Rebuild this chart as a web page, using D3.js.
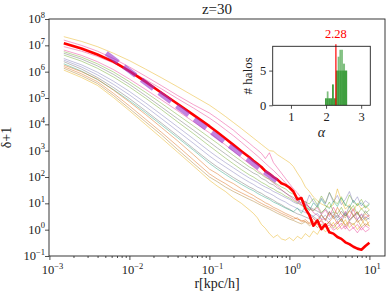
<!DOCTYPE html>
<html>
<head>
<meta charset="utf-8">
<script src="https://cdn.jsdelivr.net/npm/d3@7"></script>
<style>
  body { margin: 0; background: #fff; }
  svg text { font-family: "Liberation Serif", "DejaVu Serif", serif !important; fill: #222; }
</style>
</head>
<body>
<div id="chart"></div>
<script>
// log10(r) grid shared by every profile
const logR = [-2.82, -2.6, -2.4, -2.2, -2.0, -1.8, -1.6, -1.4, -1.2, -1.0,
  -0.9, -0.8, -0.7, -0.6,
  -0.5, -0.45, -0.4, -0.35, -0.3, -0.25, -0.2, -0.15, -0.1, -0.05, 0,
  0.05, 0.1, 0.15, 0.2, 0.25, 0.3, 0.35, 0.4, 0.45, 0.5,
  0.55, 0.6, 0.65, 0.7, 0.75, 0.8, 0.85, 0.9, 0.95, 1.0];

// log10(delta+1) of the individual halos
const haloColors = ['#e6ab02', '#e7298a', '#e7298a', '#e7298a', '#66a61e', '#666666', '#66a61e',
  '#7570b3', '#7570b3', '#666666', '#1b9e77', '#d95f02', '#d95f02', '#a6761d', '#e6ab02'];
const haloProfiles = [
  [7.33, 7.15, 6.95, 6.70, 6.42, 6.10, 5.77, 5.43, 5.08, 4.73, 4.52, 4.30, 4.07, 3.84,
   3.60, 3.48, 3.36, 3.24, 3.12, 3.00, 2.98, 2.85, 2.75, 2.65, 2.55, 2.40, 2.15, 1.92, 1.62, 1.45,
   1.24, 1.10, 0.98, 0.90, 0.85, 0.95, 1.55, 1.10, 0.78, 0.95, 0.70, 1.00, 0.78, 0.90, 0.75],
  [7.20, 7.00, 6.78, 6.50, 6.18, 5.83, 5.47, 5.10, 4.75, 4.43, 4.22, 4.00, 3.78, 3.52,
   3.28, 3.15, 3.03, 2.90, 2.70, 2.92, 2.55, 2.35, 2.15, 1.95, 1.75, 1.55, 1.40, 1.20, 1.00, 0.85,
   0.65, 0.55, 0.38, 0.42, 0.22, 0.14, 0.32, 0.02, 0.15, -0.05, 0.08, -0.12, 0.10, -0.08, 0.02],
  [6.95, 6.78, 6.58, 6.33, 6.03, 5.70, 5.35, 4.98, 4.62, 4.24, 4.03, 3.80, 3.57, 3.32,
   3.06, 2.93, 2.80, 2.66, 2.52, 2.38, 2.25, 2.10, 1.95, 1.78, 1.60, 1.40, 1.18, 0.95, 0.80, 0.60,
   0.45, 0.28, 0.32, 0.10, 0.18, -0.02, 0.08, 0.25, 0.02, 0.28, 0.05, 0.20, -0.02, 0.15, 0.05],
  [6.82, 6.62, 6.38, 6.08, 5.72, 5.33, 4.93, 4.52, 4.10, 3.68, 3.45, 3.22, 2.98, 2.74,
   2.50, 2.38, 2.25, 2.14, 2.02, 1.90, 1.78, 1.66, 1.52, 1.40, 1.28, 1.15, 1.05, 0.95, 1.08, 0.82,
   0.72, 0.85, 0.58, 0.75, 0.50, 0.85, 0.58, 0.42, 0.70, 0.45, 0.80, 0.38, 0.60, 0.45, 0.55],
  [6.76, 6.55, 6.30, 5.99, 5.62, 5.22, 4.80, 4.37, 3.94, 3.50, 3.28, 3.05, 2.82, 2.60,
   2.38, 2.30, 2.18, 2.10, 1.98, 1.92, 1.80, 1.72, 1.62, 1.55, 1.42, 1.35, 1.22, 1.15, 1.05, 0.98,
   1.18, 0.95, 1.28, 1.02, 1.42, 1.12, 0.98, 1.25, 0.90, 1.32, 1.05, 0.92, 1.15, 0.85, 1.00],
  [6.70, 6.48, 6.22, 5.90, 5.52, 5.10, 4.66, 4.22, 3.78, 3.33, 3.10, 2.88, 2.66, 2.45,
   2.25, 2.15, 2.08, 1.95, 1.88, 1.76, 1.70, 1.58, 1.50, 1.40, 1.30, 1.22, 1.10, 1.02, 0.95, 0.85,
   0.78, 0.70, 0.62, 0.80, 0.58, 0.66, 0.45, 0.70, 0.52, 0.90, 0.50, 0.62, 0.42, 0.72, 0.52],
  [6.63, 6.40, 6.13, 5.80, 5.42, 5.00, 4.56, 4.10, 3.65, 3.18, 2.95, 2.72, 2.50, 2.28,
   2.08, 2.00, 1.90, 1.80, 1.72, 1.62, 1.55, 1.45, 1.38, 1.28, 1.20, 1.10, 1.02, 0.92, 0.85, 0.78,
   0.72, 0.92, 0.65, 0.80, 1.05, 0.68, 0.60, 0.85, 0.52, 0.72, 0.92, 0.58, 0.80, 0.62, 0.75],
  [6.50, 6.26, 5.98, 5.64, 5.25, 4.82, 4.37, 3.91, 3.45, 2.98, 2.76, 2.55, 2.35, 2.15,
   1.96, 1.88, 1.80, 1.70, 1.62, 1.55, 1.45, 1.38, 1.30, 1.22, 1.15, 1.05, 0.98, 1.22, 0.92, 1.32,
   1.05, 0.90, 1.20, 0.98, 1.40, 1.05, 1.30, 0.95, 1.15, 1.45, 1.02, 1.25, 0.90, 1.10, 0.98],
  [6.44, 6.18, 5.88, 5.52, 5.12, 4.68, 4.22, 3.75, 3.28, 2.80, 2.58, 2.38, 2.18, 1.98,
   1.80, 1.72, 1.62, 1.55, 1.45, 1.38, 1.30, 1.20, 1.12, 1.05, 0.95, 0.88, 0.80, 0.72, 0.65, 0.58,
   0.52, 0.62, 0.42, 0.55, 0.38, 0.58, 0.35, 0.48, 0.66, 0.32, 0.50, 0.38, 0.58, 0.35, 0.45],
  [6.38, 6.10, 5.78, 5.40, 4.98, 4.52, 4.05, 3.57, 3.08, 2.60, 2.38, 2.18, 1.98, 1.80,
   1.62, 1.55, 1.45, 1.38, 1.28, 1.20, 1.12, 1.02, 0.95, 0.85, 0.78, 0.68, 0.60, 0.55, 0.48, 0.42,
   0.50, 0.38, 0.58, 0.34, 0.70, 0.42, 0.55, 0.30, 0.62, 0.38, 0.50, 0.68, 0.35, 0.48, 0.40],
  [6.30, 6.02, 5.70, 5.32, 4.90, 4.45, 3.98, 3.50, 3.02, 2.52, 2.30, 2.10, 1.90, 1.72,
   1.55, 1.48, 1.38, 1.30, 1.22, 1.15, 1.05, 0.98, 0.90, 0.82, 0.75, 0.68, 0.82, 0.62, 0.92, 0.72,
   1.02, 0.85, 1.15, 0.92, 0.80, 1.08, 0.88, 1.20, 0.96, 0.84, 1.12, 0.92, 1.02, 0.82, 0.95],
  [6.25, 6.00, 5.72, 5.30, 4.85, 4.38, 3.88, 3.38, 2.85, 2.30, 2.12, 1.90, 1.75, 1.55,
   1.38, 1.30, 1.20, 1.12, 1.02, 0.95, 0.85, 0.78, 0.70, 0.62, 0.55, 0.48, 0.40, 0.35, 0.30, 0.22,
   0.32, 0.18, 0.38, 0.15, 0.30, 0.50, 0.22, 0.42, 0.18, 0.35, 0.55, 0.28, 0.40, 0.15, 0.30],
  [6.19, 5.92, 5.62, 5.18, 4.70, 4.20, 3.70, 3.18, 2.65, 2.12, 1.92, 1.75, 1.55, 1.40,
   1.25, 1.18, 1.08, 1.00, 0.92, 0.85, 0.78, 0.70, 0.62, 0.55, 0.48, 0.40, 0.45, 0.30, 0.38, 0.25,
   0.42, 0.28, 0.55, 0.38, 0.66, 0.48, 0.85, 0.58, 0.45, 0.72, 0.55, 0.68, 0.42, 0.60, 0.48],
  [6.13, 5.85, 5.55, 5.10, 4.60, 4.10, 3.60, 3.05, 2.52, 2.00, 1.82, 1.62, 1.45, 1.30,
   1.15, 1.08, 1.00, 0.92, 0.85, 0.78, 0.70, 0.62, 0.55, 0.48, 0.40, 0.35, 0.28, 0.22, 0.30, 0.15,
   0.25, 0.08, 0.20, 0.12, 0.32, 0.05, 0.25, 0.40, 0.12, 0.30, 0.18, 0.38, 0.10, 0.22, 0.15],
  [6.06, 5.78, 5.48, 5.02, 4.52, 4.00, 3.48, 2.95, 2.42, 1.88, 1.65, 1.45, 1.20, 1.00,
   0.75, 0.62, 0.45, 0.20, 0.05, -0.15, -0.30, -0.20, -0.35, -0.40, -0.30, -0.42, -0.25, -0.35, -0.15, -0.28,
   -0.05, -0.18, 0.10, -0.08, 0.05, 0.28, 0.00, 0.15, 0.38, 0.08, 0.25, 0.00, 0.20, 0.45, 0.12]
];

// stacked (mean) profile, thick red
const meanProfile = [7.08, 6.88, 6.65, 6.38, 6.02, 5.62, 5.20, 4.78, 4.36, 3.93, 3.70, 3.46, 3.22, 2.98,
  2.75, 2.62, 2.50, 2.38, 2.22, 2.12, 2.00, 1.90, 1.76, 1.70, 1.60, 1.45, 1.15, 1.20, 0.80, 0.55,
  0.15, 0.35, 0.02, 0.20, -0.10, -0.15, -0.28, -0.35, -0.48, -0.55, -0.65, -0.72, -0.76, -0.62, -0.50];

// power-law fit, slope -2.28
const fitLogR = [-2.29, -0.11];
const fitLogY = [6.70, 1.73];

const xTickExp = [-3, -2, -1, 0, 1];
const yTickExp = [-1, 0, 1, 2, 3, 4, 5, 6, 7, 8];

// inset: histogram of slopes
const alphaEdges = [1.97, 2.02, 2.07, 2.12, 2.17, 2.22, 2.28, 2.33, 2.38, 2.43, 2.48, 2.54, 2.60];
const countsA = [1, 1, 1, 1, 3, 1, 5, 5, 5, 5, 5, 5];
const countsB = [1, 2, 1, 1, 3, 1, 5, 7, 8, 8, 6, 5];
const alphaMean = 2.28;
const insetXTicks = [1, 2, 3];
const insetYTicks = [0, 5];

const width = 390, height = 293;
const svg = d3.select('#chart').append('svg').attr('width', width).attr('height', height)
  .attr('font-family', '"Liberation Serif", serif');

const pLeft = 49, pRight = 385, pTop = 19, pBottom = 256;
const x = d3.scaleLog().domain([Math.pow(10, -3.005), Math.pow(10, 1.195)]).range([pLeft, pRight]);
const y = d3.scaleLog().domain([0.1, 1e8]).range([pBottom, pTop]);

svg.append('clipPath').attr('id', 'clip')
  .append('rect').attr('x', pLeft).attr('y', pTop).attr('width', pRight - pLeft).attr('height', pBottom - pTop);

const plot = svg.append('g').attr('clip-path', 'url(#clip)');
const line = d3.line().x((d) => x(Math.pow(10, d[0]))).y((d) => y(Math.pow(10, d[1])));

haloProfiles.forEach((p, i) => {
  plot.append('path')
    .attr('d', line(logR.map((r, j) => [r, p[j]])))
    .attr('fill', 'none')
    .attr('stroke', haloColors[i])
    .attr('stroke-opacity', 0.55)
    .attr('stroke-width', 0.8);
});

plot.append('path')
  .attr('d', line(logR.map((r, j) => [r, meanProfile[j]])))
  .attr('fill', 'none')
  .attr('stroke', 'red')
  .attr('stroke-width', 2.6)
  .attr('stroke-linejoin', 'round');

plot.append('path')
  .attr('d', line(fitLogR.map((r, j) => [r, fitLogY[j]])))
  .attr('fill', 'none')
  .attr('stroke', 'darkorchid')
  .attr('stroke-opacity', 0.6)
  .attr('stroke-width', 5)
  .attr('stroke-dasharray', '15,7');

// axes
svg.append('g').attr('transform', `translate(0,${pBottom})`)
  .call(d3.axisBottom(x).tickValues(xTickExp.map((e) => Math.pow(10, e))).tickSize(4).tickFormat(''));
const minor = [];
xTickExp.forEach((e) => { for (let k = 2; k < 10; k++) { const v = k * Math.pow(10, e); if (v < x.domain()[1]) minor.push(v); } });
svg.append('g').attr('transform', `translate(0,${pBottom})`)
  .call(d3.axisBottom(x).tickValues(minor).tickSize(2).tickFormat(''));
svg.append('g').attr('transform', `translate(${pLeft},0)`)
  .call(d3.axisLeft(y).tickValues(yTickExp.map((e) => Math.pow(10, e))).tickSize(4).tickFormat(''));
svg.selectAll('.domain').remove();
svg.selectAll('.tick line').attr('stroke', '#222').attr('stroke-width', 0.8);

const powLabel = (t, e) => {
  t.text('10');
  t.append('tspan').attr('dy', -5.5).attr('font-size', 8.5).text(e < 0 ? '\u2212' + -e : e);
};
xTickExp.forEach((e) => {
  svg.append('text').attr('x', x(Math.pow(10, e)) + 3).attr('y', 274)
    .attr('text-anchor', 'middle').attr('font-size', 12.5).call(powLabel, e);
});
yTickExp.forEach((e) => {
  svg.append('text').attr('x', 45).attr('y', y(Math.pow(10, e)) + 4)
    .attr('text-anchor', 'end').attr('font-size', 12.5).call(powLabel, e);
});

svg.append('rect').attr('x', pLeft).attr('y', pTop).attr('width', pRight - pLeft).attr('height', pBottom - pTop)
  .attr('fill', 'none').attr('stroke', '#222').attr('stroke-width', 0.9);

svg.append('text').attr('x', (pLeft + pRight) / 2).attr('y', 14).attr('text-anchor', 'middle')
  .attr('font-size', 15).text('z=30');
svg.append('text').attr('x', (pLeft + pRight) / 2).attr('y', 288).attr('text-anchor', 'middle')
  .attr('font-size', 14).text('r[kpc/h]');
svg.append('text').attr('transform', `translate(11,${(pTop + pBottom) / 2}) rotate(-90)`)
  .attr('text-anchor', 'middle').attr('font-size', 14).text('\u03b4+1');

// inset
const ix = d3.scaleLinear().domain([0.48, 3.26]).range([272.7, 370.3]);
const iy = d3.scaleLinear().domain([0, 8.5]).range([105.3, 46.3]);
const inset = svg.append('g');
inset.append('rect').attr('x', ix.range()[0]).attr('y', iy.range()[1])
  .attr('width', ix.range()[1] - ix.range()[0]).attr('height', iy.range()[0] - iy.range()[1]).attr('fill', '#fff');

[countsA, countsB].forEach((counts) => {
  inset.selectAll(null).data(counts).enter().append('rect')
    .attr('x', (d, i) => ix(alphaEdges[i]))
    .attr('width', (d, i) => ix(alphaEdges[i + 1]) - ix(alphaEdges[i]))
    .attr('y', (d) => iy(d))
    .attr('height', (d) => iy(0) - iy(d))
    .attr('fill', 'green')
    .attr('fill-opacity', 0.5);
});

inset.append('line').attr('x1', ix(alphaMean)).attr('x2', ix(alphaMean))
  .attr('y1', iy.range()[1] - 2).attr('y2', iy(0)).attr('stroke', 'red').attr('stroke-width', 1.2);
inset.append('text').attr('x', ix(alphaMean)).attr('y', 38).attr('text-anchor', 'middle')
  .attr('font-size', 12.5).style('fill', 'red').text(alphaMean.toFixed(2));

inset.append('g').attr('transform', `translate(0,${iy(0)})`)
  .call(d3.axisBottom(ix).tickValues(insetXTicks).tickSize(3.5).tickPadding(3).tickFormat(d3.format('d')))
  .call((g) => g.select('.domain').remove())
  .call((g) => g.selectAll('text').attr('font-size', 12.5));
inset.append('g').attr('transform', `translate(${ix.range()[0]},0)`)
  .call(d3.axisLeft(iy).tickValues(insetYTicks).tickSize(3.5).tickPadding(3).tickFormat(d3.format('d')))
  .call((g) => g.select('.domain').remove())
  .call((g) => g.selectAll('text').attr('font-size', 12.5));
inset.selectAll('.tick line').attr('stroke', '#222').attr('stroke-width', 0.8);

inset.append('rect').attr('x', ix.range()[0]).attr('y', iy.range()[1])
  .attr('width', ix.range()[1] - ix.range()[0]).attr('height', iy.range()[0] - iy.range()[1])
  .attr('fill', 'none').attr('stroke', '#222').attr('stroke-width', 0.9);

inset.append('text').attr('x', (ix.range()[0] + ix.range()[1]) / 2).attr('y', 137)
  .attr('text-anchor', 'middle').attr('font-size', 14).attr('font-style', 'italic').text('\u03b1');
inset.append('text').attr('transform', `translate(252,${(iy.range()[0] + iy.range()[1]) / 2}) rotate(-90)`)
  .attr('text-anchor', 'middle').attr('font-size', 13).text('# halos');
</script>
</body>
</html>
